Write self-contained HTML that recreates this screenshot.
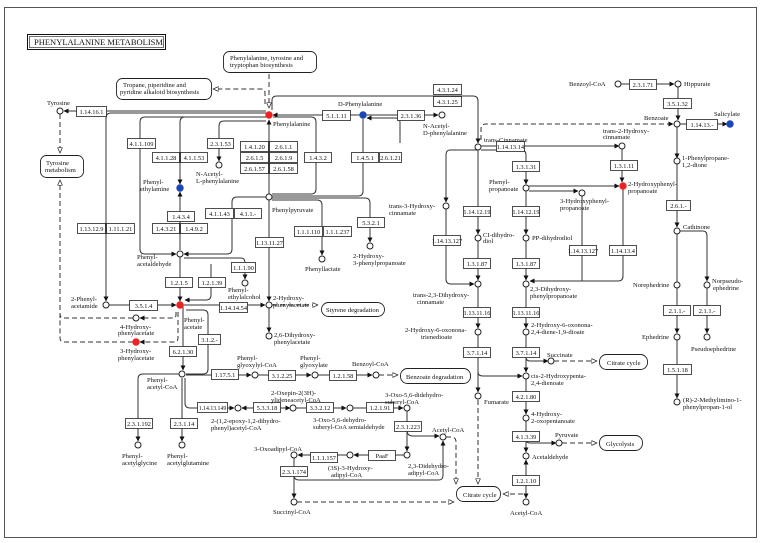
<!DOCTYPE html>
<html><head><meta charset="utf-8"><style>
html,body{margin:0;padding:0;background:#fff}
svg{display:block}
text{font-family:"Liberation Serif",serif;font-size:6.6px;fill:#111}
.e rect{fill:#fff;stroke:#222;stroke-width:.8}
.e text{text-anchor:middle;font-size:6.4px}
.l{fill:none;stroke:#333;stroke-width:1}
.d{fill:none;stroke:#333;stroke-width:1;stroke-dasharray:5,3}
circle{fill:#fff;stroke:#222;stroke-width:1}
.m rect{fill:#fff;stroke:#222;stroke-width:.9}
</style></head><body>
<svg width="768" height="543" viewBox="0 0 768 543" xmlns="http://www.w3.org/2000/svg">
<defs>
<marker id="a" viewBox="0 0 10 10" refX="9" refY="5" markerWidth="5" markerHeight="5" orient="auto"><path d="M0,0L10,5L0,10z" fill="#111"/></marker>
<marker id="o" viewBox="0 0 10 10" refX="9" refY="5" markerWidth="6" markerHeight="6" orient="auto"><path d="M0,1L9,5L0,9z" fill="#fff" stroke="#222" stroke-width="1.2"/></marker>
</defs>
<rect x="4.5" y="7.5" width="752" height="530" fill="none" stroke="#555" stroke-width="1"/>
<rect x="27.5" y="34.5" width="138" height="15" fill="#fff" stroke="#111" stroke-width="1"/>
<rect x="29.5" y="36.5" width="134" height="11" fill="none" stroke="#111" stroke-width=".6"/>
<text x="34" y="45" style="font-size:8.5px">PHENYLALANINE METABOLISM</text>

<g class="m">
<rect x="223.5" y="51.5" width="93" height="21" rx="6"/>
<rect x="116.5" y="78.5" width="95" height="21" rx="6"/>
<rect x="40.5" y="155.5" width="43" height="22" rx="6"/>
<rect x="321.5" y="302.5" width="63" height="14" rx="7"/>
<rect x="400.5" y="368.5" width="70" height="15" rx="7"/>
<rect x="599.5" y="354.5" width="48" height="15" rx="7"/>
<rect x="599.5" y="435.5" width="43" height="15" rx="7"/>
<rect x="456.5" y="486.5" width="44" height="15" rx="7"/>
</g>
<text x="230" y="60">Phenylalanine, tyrosine and</text><text x="230" y="67">tryptophan biosynthesis</text>
<text x="123" y="87">Tropane, piperidine and</text><text x="120" y="94">pyridine alkaloid biosynthesis</text>
<text x="46" y="165">Tyrosine</text><text x="45" y="172">metabolism</text>
<text x="326" y="312">Styrene degradation</text>
<text x="406" y="379">Benzoate degradation</text>
<text x="607" y="365">Citrate cycle</text>
<text x="606" y="446">Glycolysis</text>
<text x="463" y="497">Citrate cycle</text>

<g class="l">
<path d="M266,111H64" marker-end="url(#a)"/>
<path d="M269,195V120" marker-end="url(#a)"/>
<path d="M360,115H273" marker-end="url(#a)"/>
<path d="M366,115H438" marker-end="url(#a)"/>
<path d="M395,118H367" marker-end="url(#a)"/>
<path d="M395,118Q400,118 400,122V143"/>
<path d="M272,110V100Q272,96 277,96H473Q478,96 478,101V143" marker-end="url(#a)"/>
<path d="M481,146H619" marker-end="url(#a)"/>
<path d="M621,84H674" marker-end="url(#a)"/>
<path d="M678,87V120" marker-end="url(#a)"/>
<path d="M680,124H727" marker-end="url(#a)"/>
<path d="M677,127V158" marker-end="url(#a)"/>
<path d="M677,164V227" marker-end="url(#a)"/>
<path d="M677,234V333" marker-end="url(#a)"/>
<path d="M677,340V398" marker-end="url(#a)"/>
<path d="M680,231H703Q707,231 707,236V281" marker-end="url(#a)"/>
<path d="M707,288V333" marker-end="url(#a)"/>
<path d="M622,149V182" marker-end="url(#a)"/>
<path d="M478,150V234" marker-end="url(#a)"/>
<path d="M478,241V280" marker-end="url(#a)"/>
<path d="M478,287V328" marker-end="url(#a)"/>
<path d="M478,335V392" marker-end="url(#a)"/>
<path d="M478,150H450Q446,150 446,155V202" marker-end="url(#a)"/>
<path d="M446,209V279Q446,284 451,284H474" marker-end="url(#a)"/>
<path d="M481,150H521Q526,150 526,155V184" marker-end="url(#a)"/>
<path d="M526,191V234" marker-end="url(#a)"/>
<path d="M526,241V280" marker-end="url(#a)"/>
<path d="M526,287V328" marker-end="url(#a)"/>
<path d="M526,335V372" marker-end="url(#a)"/>
<path d="M526,379V414" marker-end="url(#a)"/>
<path d="M526,421V452" marker-end="url(#a)"/>
<path d="M526,498V460" marker-end="url(#a)"/>
<path d="M526,475V498" marker-end="url(#a)"/>
<path d="M529,186H619" marker-end="url(#a)"/>
<path d="M529,191H578" marker-end="url(#a)"/>
<path d="M623,189V276Q623,281 618,281H530" marker-end="url(#a)"/>
<path d="M582,196V281"/>
<path d="M526,353V357Q526,361 530,361H548" marker-end="url(#a)"/>
<path d="M526,438V439Q526,443 530,443H556" marker-end="url(#a)"/>
<path d="M478,366V372Q478,376 483,376H522" marker-end="url(#a)"/>
<path d="M266,117H185Q180,117 180,122V184" marker-end="url(#a)"/>
<path d="M266,117H145Q140,117 140,122V249Q140,254 145,254H176" marker-end="url(#a)"/>
<path d="M266,121H224Q219,121 219,126V161" marker-end="url(#a)"/>
<path d="M266,113H111Q106,113 106,118V301" marker-end="url(#a)"/>
<path d="M180,250V192" marker-end="url(#a)"/>
<path d="M266,197H237Q232,197 232,202V249Q232,254 227,254H184" marker-end="url(#a)"/>
<path d="M272,194H311Q316,194 316,189V122Q316,117 311,117H273"/>
<path d="M272,196H358Q363,196 363,191V119"/>
<path d="M272,200H317Q322,200 322,205V255" marker-end="url(#a)"/>
<path d="M272,198H365Q370,198 370,203V242" marker-end="url(#a)"/>
<path d="M269,200V301" marker-end="url(#a)"/>
<path d="M269,308V332" marker-end="url(#a)"/>
<path d="M180,257V301" marker-end="url(#a)"/>
<path d="M184,258H241Q245,258 245,263V279" marker-end="url(#a)"/>
<path d="M211,264V295Q211,300 206,300H185" marker-end="url(#a)"/>
<path d="M183,305H265" marker-end="url(#a)"/>
<path d="M109,305H176" marker-end="url(#a)"/>
<path d="M183,305V370" marker-end="url(#a)"/>
<path d="M186,310H203Q208,310 208,315V369Q208,374 203,374H186"/>
<path d="M186,375H251" marker-end="url(#a)"/>
<path d="M258,375H311" marker-end="url(#a)"/>
<path d="M318,375H372" marker-end="url(#a)"/>
<path d="M179,374H143Q138,374 138,379V441" marker-end="url(#a)"/>
<path d="M182,378V441" marker-end="url(#a)"/>
<path d="M185,378V403Q185,408 190,408H234" marker-end="url(#a)"/>
<path d="M252,408H242" marker-end="url(#a)"/>
<path d="M252,408H290" marker-end="url(#a)"/>
<path d="M296,408H346" marker-end="url(#a)"/>
<path d="M353,408H403" marker-end="url(#a)"/>
<path d="M407,411V451" marker-end="url(#a)"/>
<path d="M407,430Q407,436 413,436H439" marker-end="url(#a)"/>
<path d="M404,455H354" marker-end="url(#a)"/>
<path d="M347,455H298" marker-end="url(#a)"/>
<path d="M294,458V498" marker-end="url(#a)"/>
<path d="M294,472V475Q294,480 299,480H439Q443,480 443,475V441" marker-end="url(#a)"/>
</g>
<g class="d">
<path d="M269,74V108" marker-end="url(#o)"/>
<path d="M265,104V93Q265,89 261,89H213" marker-end="url(#o)"/>
<path d="M481,140V129Q481,124 486,124H673" marker-end="url(#a)"/>
<path d="M60,114V153" marker-end="url(#o)"/>
<path d="M60,318V180" marker-end="url(#o)"/>
<path d="M133,318H64Q60,318 60,314"/>
<path d="M176,312V315Q176,318 172,318H140" marker-end="url(#a)"/>
<path d="M178,312V338Q178,342 174,342H140" marker-end="url(#a)"/>
<path d="M133,342H64Q60,342 60,338V318"/>
<path d="M272,305H318" marker-end="url(#o)"/>
<path d="M379,375H398" marker-end="url(#o)"/>
<path d="M554,361H597" marker-end="url(#o)"/>
<path d="M562,443H597" marker-end="url(#o)"/>
<path d="M297,502H454" marker-end="url(#o)"/>
<path d="M446,437H451Q456,437 456,442V484" marker-end="url(#o)"/>
<path d="M478,400V484" marker-end="url(#o)"/>
<path d="M523,494H503" marker-end="url(#o)"/>
</g>

<g class="e">
<rect x="76.5" y="106.5" width="30" height="10"/><text x="91.5" y="114">1.14.16.1</text>
<rect x="127.5" y="138.5" width="28" height="10"/><text x="141.5" y="146">4.1.1.109</text>
<rect x="207.5" y="138.5" width="26" height="10"/><text x="220.5" y="146">2.3.1.53</text>
<rect x="152.5" y="152.5" width="27" height="10"/><text x="166" y="160">4.1.1.28</text>
<rect x="180.5" y="152.5" width="27" height="10"/><text x="194" y="160">4.1.1.53</text>
<rect x="240.5" y="141.5" width="28" height="10"/><text x="254.5" y="149">1.4.1.20</text>
<rect x="269.5" y="141.5" width="28" height="10"/><text x="283.5" y="149">2.6.1.1</text>
<rect x="240.5" y="152.5" width="28" height="10"/><text x="254.5" y="160">2.6.1.5</text>
<rect x="269.5" y="152.5" width="28" height="10"/><text x="283.5" y="160">2.6.1.9</text>
<rect x="240.5" y="163.5" width="28" height="10"/><text x="254.5" y="171">2.6.1.57</text>
<rect x="269.5" y="163.5" width="28" height="10"/><text x="283.5" y="171">2.6.1.58</text>
<rect x="304.5" y="152.5" width="27" height="10"/><text x="318" y="160">1.4.3.2</text>
<rect x="322.5" y="110.5" width="28" height="10"/><text x="336.5" y="118">5.1.1.11</text>
<rect x="397.5" y="110.5" width="27" height="10"/><text x="411" y="118">2.3.1.36</text>
<rect x="433.5" y="84.5" width="28" height="10"/><text x="447.5" y="92">4.3.1.24</text>
<rect x="433.5" y="96.5" width="28" height="10"/><text x="447.5" y="104">4.3.1.25</text>
<rect x="351.5" y="152.5" width="27" height="10"/><text x="365" y="160">1.4.5.1</text>
<rect x="379.5" y="152.5" width="22" height="10"/><text x="390.5" y="160">2.6.1.21</text>
<rect x="167.5" y="211.5" width="27" height="10"/><text x="181" y="219">1.4.3.4</text>
<rect x="152.5" y="223.5" width="27" height="10"/><text x="166" y="231">1.4.3.21</text>
<rect x="180.5" y="223.5" width="27" height="10"/><text x="194" y="231">1.4.9.2</text>
<rect x="205.5" y="208.5" width="28" height="10"/><text x="219.5" y="216">4.1.1.43</text>
<rect x="234.5" y="208.5" width="27" height="10"/><text x="248" y="216">4.1.1.-</text>
<rect x="255.5" y="237.5" width="28" height="10"/><text x="269.5" y="245">1.13.11.27</text>
<rect x="294.5" y="226.5" width="28" height="10"/><text x="308.5" y="234">1.1.1.110</text>
<rect x="323.5" y="226.5" width="28" height="10"/><text x="337.5" y="234">1.1.1.237</text>
<rect x="357.5" y="217.5" width="27" height="10"/><text x="371" y="225">5.3.2.1</text>
<rect x="77.5" y="223.5" width="28" height="10"/><text x="91.5" y="231">1.13.12.9</text>
<rect x="106.5" y="223.5" width="28" height="10"/><text x="120.5" y="231">1.11.1.21</text>
<rect x="231.5" y="262.5" width="24" height="10"/><text x="243.5" y="270">1.1.1.90</text>
<rect x="165.5" y="277.5" width="27" height="10"/><text x="179" y="285">1.2.1.5</text>
<rect x="198.5" y="277.5" width="27" height="10"/><text x="212" y="285">1.2.1.39</text>
<rect x="129.5" y="300.5" width="28" height="10"/><text x="143.5" y="308">3.5.1.4</text>
<rect x="219.5" y="302.5" width="28" height="10"/><text x="233.5" y="310">1.14.14.54</text>
<rect x="198.5" y="334.5" width="22" height="10"/><text x="209.5" y="342">3.1.2.-</text>
<rect x="169.5" y="346.5" width="27" height="10"/><text x="183" y="354">6.2.1.30</text>
<rect x="211.5" y="369.5" width="27" height="10"/><text x="225" y="377">1.17.5.1</text>
<rect x="268.5" y="370.5" width="27" height="10"/><text x="282" y="378">3.1.2.25</text>
<rect x="329.5" y="370.5" width="27" height="10"/><text x="343" y="378">1.2.1.58</text>
<rect x="197.5" y="402.5" width="30" height="10"/><text x="212.5" y="410" style="font-size:5.8px">1.14.13.149</text>
<rect x="253.5" y="402.5" width="27" height="10"/><text x="267" y="410">5.3.3.18</text>
<rect x="306.5" y="402.5" width="27" height="10"/><text x="320" y="410">3.3.2.12</text>
<rect x="366.5" y="402.5" width="27" height="10"/><text x="380" y="410">1.2.1.91</text>
<rect x="394.5" y="421.5" width="27" height="10"/><text x="408" y="429">2.3.1.223</text>
<rect x="368.5" y="450.5" width="27" height="10"/><text x="382" y="458">PaaF</text>
<rect x="310.5" y="452.5" width="27" height="10"/><text x="324" y="460">1.1.1.157</text>
<rect x="280.5" y="466.5" width="27" height="10"/><text x="294" y="474">2.3.1.174</text>
<rect x="125.5" y="418.5" width="27" height="10"/><text x="139" y="426">2.3.1.192</text>
<rect x="170.5" y="418.5" width="27" height="10"/><text x="184" y="426">2.3.1.14</text>
<rect x="496.5" y="141.5" width="28" height="10"/><text x="510.5" y="149">1.14.13.14</text>
<rect x="512.5" y="161.5" width="27" height="10"/><text x="526" y="169">1.3.1.31</text>
<rect x="610.5" y="160.5" width="27" height="10"/><text x="624" y="168">1.3.1.11</text>
<rect x="463.5" y="206.5" width="27" height="10"/><text x="477" y="214">1.14.12.19</text>
<rect x="512.5" y="206.5" width="27" height="10"/><text x="526" y="214">1.14.12.19</text>
<rect x="433.5" y="235.5" width="27" height="10"/><text x="447" y="243">1.14.13.127</text>
<rect x="569.5" y="245.5" width="27" height="10"/><text x="583" y="253">1.14.13.127</text>
<rect x="609.5" y="245.5" width="27" height="10"/><text x="623" y="253">1.14.13.4</text>
<rect x="463.5" y="258.5" width="27" height="10"/><text x="477" y="266">1.3.1.87</text>
<rect x="512.5" y="258.5" width="27" height="10"/><text x="526" y="266">1.3.1.87</text>
<rect x="463.5" y="307.5" width="27" height="10"/><text x="477" y="315">1.13.11.16</text>
<rect x="512.5" y="307.5" width="27" height="10"/><text x="526" y="315">1.13.11.16</text>
<rect x="463.5" y="347.5" width="27" height="10"/><text x="477" y="355">3.7.1.14</text>
<rect x="512.5" y="347.5" width="27" height="10"/><text x="526" y="355">3.7.1.14</text>
<rect x="512.5" y="391.5" width="27" height="10"/><text x="526" y="399">4.2.1.80</text>
<rect x="512.5" y="431.5" width="27" height="10"/><text x="526" y="439">4.1.3.39</text>
<rect x="512.5" y="475.5" width="27" height="10"/><text x="526" y="483">1.2.1.10</text>
<rect x="629.5" y="79.5" width="27" height="10"/><text x="643" y="87">2.3.1.71</text>
<rect x="663.5" y="98.5" width="28" height="10"/><text x="677.5" y="106">3.5.1.32</text>
<rect x="686.5" y="119.5" width="31" height="10"/><text x="702" y="127">1.14.13.-</text>
<rect x="666.5" y="200.5" width="24" height="10"/><text x="678.5" y="208">2.6.1.-</text>
<rect x="663.5" y="305.5" width="27" height="10"/><text x="677" y="313">2.1.1.-</text>
<rect x="693.5" y="305.5" width="27" height="10"/><text x="707" y="313">2.1.1.-</text>
<rect x="663.5" y="364.5" width="28" height="10"/><text x="677.5" y="372">1.5.1.18</text>
</g>

<g>
<circle cx="60" cy="111" r="3"/><circle cx="269" cy="115" r="3.2" style="fill:#e22;stroke:#e22"/>
<circle cx="363" cy="115" r="3.2" style="fill:#1a47b8;stroke:#1a47b8"/><circle cx="442" cy="115" r="3"/>
<circle cx="478" cy="147" r="3"/><circle cx="618" cy="84" r="3"/><circle cx="678" cy="84" r="3"/>
<circle cx="677" cy="124" r="3"/><circle cx="730" cy="124" r="3.2" style="fill:#1a47b8;stroke:#1a47b8"/>
<circle cx="677" cy="161" r="3"/><circle cx="622" cy="146" r="3"/>
<circle cx="623" cy="186" r="3.2" style="fill:#e22;stroke:#e22"/>
<circle cx="526" cy="188" r="3"/><circle cx="582" cy="193" r="3"/><circle cx="446" cy="206" r="3"/>
<circle cx="478" cy="238" r="3"/><circle cx="526" cy="238" r="3"/><circle cx="677" cy="231" r="3"/>
<circle cx="677" cy="285" r="3"/><circle cx="707" cy="285" r="3"/><circle cx="677" cy="337" r="3"/>
<circle cx="707" cy="337" r="3"/><circle cx="677" cy="402" r="3"/>
<circle cx="180" cy="188" r="3.2" style="fill:#1a47b8;stroke:#1a47b8"/><circle cx="219" cy="165" r="3"/>
<circle cx="269" cy="197" r="3"/><circle cx="322" cy="259" r="3"/><circle cx="370" cy="246" r="3"/>
<circle cx="180" cy="254" r="3"/><circle cx="245" cy="283" r="3"/><circle cx="106" cy="305" r="3"/>
<circle cx="180" cy="305" r="3.2" style="fill:#e22;stroke:#e22"/><circle cx="136" cy="318" r="3"/>
<circle cx="136" cy="342" r="3.2" style="fill:#e22;stroke:#e22"/><circle cx="269" cy="305" r="3"/>
<circle cx="269" cy="336" r="3"/><circle cx="182" cy="374" r="3"/><circle cx="255" cy="375" r="3"/>
<circle cx="315" cy="375" r="3"/><circle cx="376" cy="375" r="3"/><circle cx="138" cy="445" r="3"/>
<circle cx="182" cy="445" r="3"/><circle cx="238" cy="408" r="3"/><circle cx="293" cy="408" r="3"/>
<circle cx="350" cy="408" r="3"/><circle cx="407" cy="408" r="3"/><circle cx="407" cy="455" r="3"/>
<circle cx="443" cy="437" r="3"/><circle cx="294" cy="455" r="3"/><circle cx="350" cy="455" r="3"/>
<circle cx="294" cy="502" r="3"/><circle cx="478" cy="284" r="3"/><circle cx="526" cy="284" r="3"/>
<circle cx="478" cy="332" r="3"/><circle cx="526" cy="332" r="3"/><circle cx="551" cy="361" r="3"/>
<circle cx="526" cy="376" r="3"/><circle cx="478" cy="396" r="3"/><circle cx="526" cy="418" r="3"/>
<circle cx="559" cy="443" r="3"/><circle cx="526" cy="456" r="3"/><circle cx="526" cy="502" r="3"/>
</g>

<text x="47" y="105">Tyrosine</text>
<text x="273" y="126">Phenylalanine</text>
<text x="338" y="106">D-Phenylalanine</text>
<text x="423" y="128">N-Acetyl-</text><text x="423" y="135">D-phenylalanine</text>
<text x="484" y="142">trans-Cinnamate</text>
<text x="569" y="86">Benzoyl-CoA</text><text x="684" y="86">Hippurate</text>
<text x="644" y="120">Benzoate</text><text x="714" y="116">Salicylate</text>
<text x="682" y="160">1-Phenylpropane-</text><text x="682" y="167">1,2-dione</text>
<text x="603" y="133">trans-2-Hydroxy-</text><text x="603" y="139">cinnamate</text>
<text x="628" y="186">2-Hydroxyphenyl-</text><text x="628" y="193">propanoate</text>
<text x="489" y="184">Phenyl-</text><text x="489" y="191">propanoate</text>
<text x="560" y="203">3-Hydroxyphenyl-</text><text x="560" y="210">propanoate</text>
<text x="389" y="208">trans-3-Hydroxy-</text><text x="389" y="215">cinnamate</text>
<text x="483" y="237">CI-dihydro-</text><text x="483" y="243">diol</text>
<text x="532" y="240">PP-dihydrodiol</text>
<text x="683" y="229">Cathinone</text>
<text x="633" y="287">Norephedrine</text>
<text x="712" y="283">Norpseudo-</text><text x="713" y="290">ephedrine</text>
<text x="642" y="339">Ephedrine</text><text x="691" y="351">Pseudoephedrine</text>
<text x="683" y="402">(R)-2-Methylimino-1-</text><text x="683" y="409">phenylpropan-1-ol</text>
<text x="143" y="184">Phenyl-</text><text x="140" y="191">ethylamine</text>
<text x="196" y="176">N-Acetyl-</text><text x="196" y="183">L-phenylalanine</text>
<text x="272" y="212">Phenylpyruvate</text>
<text x="305" y="271">Phenyllactate</text>
<text x="353" y="258">2-Hydroxy-</text><text x="353" y="265">3-phenylpropanoate</text>
<text x="137" y="259">Phenyl-</text><text x="137" y="266">acetaldehyde</text>
<text x="228" y="292">Phenyl-</text><text x="228" y="299">ethylalcohol</text>
<text x="71" y="301">2-Phenyl-</text><text x="71" y="308">acetamide</text>
<text x="184" y="322">Phenyl-</text><text x="184" y="329">acetate</text>
<text x="120" y="329">4-Hydroxy-</text><text x="118" y="335">phenylacetate</text>
<text x="120" y="353">3-Hydroxy-</text><text x="118" y="360">phenylacetate</text>
<text x="273" y="300">2-Hydroxy-</text><text x="273" y="307">phenylacetate</text>
<text x="274" y="337">2,6-Dihydroxy-</text><text x="274" y="344">phenylacetate</text>
<text x="147" y="382">Phenyl-</text><text x="147" y="389">acetyl-CoA</text>
<text x="237" y="360">Phenyl-</text><text x="237" y="367">glyoxylyl-CoA</text>
<text x="300" y="360">Phenyl-</text><text x="300" y="367">glyoxylate</text>
<text x="352" y="366">Benzoyl-CoA</text>
<text x="122" y="458">Phenyl-</text><text x="122" y="465">acetylglycine</text>
<text x="167" y="458">Phenyl-</text><text x="167" y="465">acetylglutamine</text>
<text x="211" y="423">2-(1,2-epoxy-1,2-dihydro-</text><text x="211" y="430">phenyl)acetyl-CoA</text>
<text x="271" y="395">2-Oxepin-2(3H)-</text><text x="271" y="402">ylideneacetyl-CoA</text>
<text x="313" y="422">3-Oxo-5,6-dehydro-</text><text x="313" y="429">suberyl-CoA semialdehyde</text>
<text x="385" y="397">3-Oxo-5,6-didehydro-</text><text x="385" y="404">suberyl-CoA</text>
<text x="432" y="432">Acetyl-CoA</text>
<text x="408" y="468">2,3-Didehydro-</text><text x="408" y="475">adipyl-CoA</text>
<text x="254" y="451">3-Oxoadipyl-CoA</text>
<text x="328" y="470">(3S)-3-Hydroxy-</text><text x="331" y="477">adipyl-CoA</text>
<text x="273" y="514">Succinyl-CoA</text>
<text x="413" y="297">trans-2,3-Dihydroxy-</text><text x="417" y="304">cinnamate</text>
<text x="530" y="291">2,3-Dihydroxy-</text><text x="530" y="298">phenylpropanoate</text>
<text x="405" y="332">2-Hydroxy-6-oxonona-</text><text x="421" y="339">trienedioate</text>
<text x="531" y="327">2-Hydroxy-6-oxonona-</text><text x="531" y="334">2,4-diene-1,9-dioate</text>
<text x="547" y="357">Succinate</text>
<text x="531" y="378">cis-2-Hydroxypenta-</text><text x="531" y="385">2,4-dienoate</text>
<text x="484" y="404">Fumarate</text>
<text x="531" y="416">4-Hydroxy-</text><text x="531" y="423">2-oxopentanoate</text>
<text x="555" y="437">Pyruvate</text>
<text x="532" y="459">Acetaldehyde</text>
<text x="510" y="515">Acetyl-CoA</text>
</svg>
</body></html>
